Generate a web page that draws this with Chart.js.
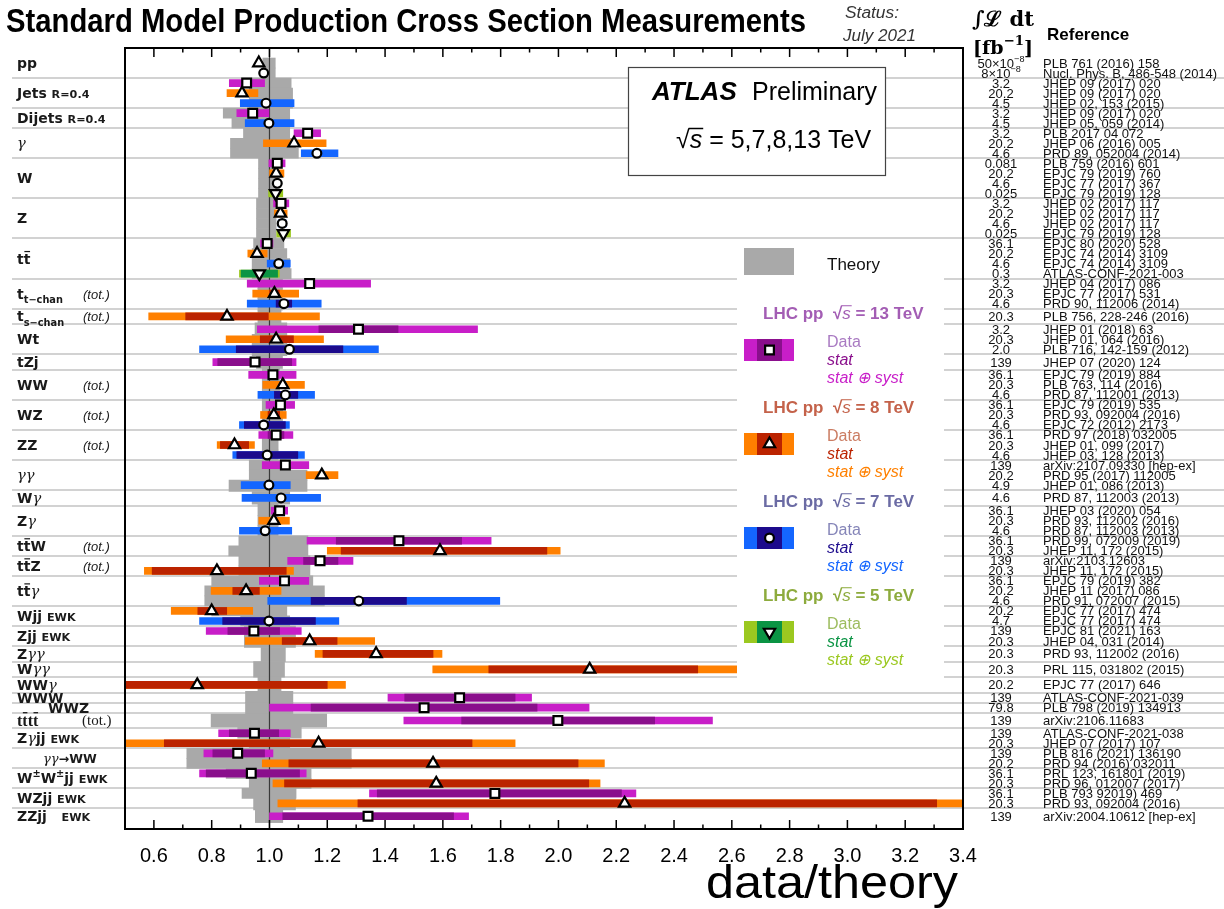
<!DOCTYPE html>
<html>
<head>
<meta charset="utf-8">
<title>Standard Model Production Cross Section Measurements</title>
<script src="https://cdn.jsdelivr.net/npm/chart.js@4.4.1/dist/chart.umd.min.js"></script>
<style>
  html, body { margin: 0; padding: 0; background: #fff; }
  #wrap { width: 1224px; height: 909px; position: relative; }
</style>
</head>
<body>
<div id="wrap"><canvas id="chart"></canvas></div>
<script>
// processes, top to bottom, with how many measurements each one has
const processes = ['pp', 'Jets <R=0.4>', 'Dijets <R=0.4>', 'γ', 'W', 'Z', 't~t', 't_{t−chan}', 't_{s−chan}',
  'Wt', 'tZj', 'WW', 'WZ', 'ZZ', 'γγ', 'Wγ', 'Zγ', 't~tW', 't~tZ', 't~tγ', 'Wjj <EWK>', 'Zjj <EWK>',
  'Zγγ', 'Wγγ', 'WWγ', 'WWW', 'WWZ', 't~tt~t', 'Zγjj <EWK>', 'γγ→WW', 'W^{±}W^{±}jj <EWK>', 'WZjj <EWK>', 'ZZjj   <EWK>'];
const rowsPerProcess = [2, 3, 2, 3, 4, 4, 4, 3, 1, 3, 1, 3, 3, 3, 3, 1, 3, 2, 2, 3, 2, 2, 1, 1, 1, 1, 1, 1, 2, 2, 2, 2, 1];
const totalOnly = [7, 8, 11, 12, 13, 17, 18, 27];   // quoted as total cross sections

// one entry per measurement row
const rowEnergy = [8, 7, 13, 8, 7, 13, 7, 13, 8, 7, 13, 8, 7, 5, 13, 8, 7, 5, 13, 8, 7, 5, 13, 8, 7, 8,
  13, 8, 7, 13, 13, 8, 7, 13, 8, 7, 13, 8, 7, 13, 8, 7, 7, 13, 8, 7, 13, 8, 13, 8, 13, 8, 7, 8, 7,
  13, 8, 8, 8, 8, 13, 13, 13, 13, 8, 13, 8, 13, 8, 13, 8, 13];

const values = [
  0.963, 0.980,
  0.921, 0.905, 0.988,
  0.942, 0.998,
  1.132, 1.085, 1.164,
  1.027, 1.023, 1.027, 1.021,
  1.040, 1.038, 1.044, 1.048,
  0.992, 0.957, 1.032, 0.965,
  1.139, 1.017, 1.050,
  0.853,
  1.308, 1.023, 1.069,
  0.950,
  1.012, 1.046, 1.055,
  1.038, 1.015, 0.980,
  1.023, 0.879, 0.992,
  1.055, 1.181, 0.998,
  1.040,
  1.035, 1.015, 0.985,
  1.448, 1.590,
  1.175, 0.818,
  1.052, 0.919, 1.309,
  0.800, 0.998,
  0.946, 1.139,
  1.369,
  2.108,
  0.750,
  1.658,
  1.535,
  1.998,
  0.948, 1.170,
  0.890, 1.566,
  0.937, 1.577,
  1.780, 2.229,
  1.341
];

const statBand = [
  [0.958, 0.968], [0.977, 0.983],
  [0.915, 0.927], [0.900, 0.910], [0.983, 0.993],
  [0.937, 0.947], [0.993, 1.003],
  [1.127, 1.137], [1.080, 1.090], [1.159, 1.169],
  [1.022, 1.032], [1.018, 1.028], [1.024, 1.030], [1.016, 1.026],
  [1.035, 1.045], [1.034, 1.042], [1.041, 1.047], [1.043, 1.053],
  [0.988, 0.996], [0.952, 0.962], [1.027, 1.037], [0.902, 1.028],
  [1.125, 1.153], [1.000, 1.034], [1.023, 1.077],
  [0.710, 0.996],
  [1.171, 1.445], [0.968, 1.083], [0.885, 1.254],
  [0.821, 1.077],
  [1.006, 1.018], [1.040, 1.052], [1.017, 1.098],
  [1.030, 1.046], [0.995, 1.035], [0.913, 1.055],
  [0.995, 1.050], [0.830, 0.928], [0.887, 1.098],
  [1.050, 1.060], [1.176, 1.186], [0.993, 1.003],
  [1.035, 1.045],
  [1.030, 1.040], [1.010, 1.020], [0.980, 0.990],
  [1.231, 1.665], [1.248, 1.960],
  [1.118, 1.237], [0.594, 1.058],
  [1.047, 1.057], [0.873, 0.965], [1.144, 1.474],
  [0.752, 0.852], [0.838, 1.159],
  [0.856, 1.035], [1.044, 1.234],
  [1.185, 1.566],
  [1.759, 2.482],
  [0.300, 1.200],
  [1.468, 1.850],
  [1.144, 1.926],
  [1.665, 2.333],
  [0.861, 1.032], [0.636, 1.701],
  [0.804, 0.983], [1.067, 2.068],
  [0.781, 1.104], [1.052, 2.105],
  [1.373, 2.218], [1.306, 3.309],
  [1.046, 1.637]
];

const totalBand = [
  [0.955, 0.971], [0.975, 0.985],
  [0.861, 0.983], [0.853, 0.960], [0.899, 1.085],
  [0.887, 0.998], [0.916, 1.085],
  [1.085, 1.177], [0.979, 1.196], [1.110, 1.237],
  [0.998, 1.054], [1.000, 1.050], [1.017, 1.037], [0.997, 1.046],
  [1.014, 1.067], [1.017, 1.061], [1.030, 1.058], [1.025, 1.073],
  [0.969, 1.012], [0.925, 0.992], [0.992, 1.072], [0.896, 1.034],
  [0.923, 1.350], [0.942, 1.101], [0.923, 1.179],
  [0.582, 1.173],
  [0.958, 1.720], [0.850, 1.187], [0.758, 1.377],
  [0.804, 1.092],
  [0.928, 1.092], [0.977, 1.121], [0.960, 1.156],
  [0.988, 1.087], [0.969, 1.058], [0.896, 1.069],
  [0.963, 1.081], [0.819, 0.948], [0.873, 1.121],
  [0.975, 1.136], [1.127, 1.237], [0.902, 1.072],
  [0.905, 1.177],
  [1.006, 1.063], [0.963, 1.069], [0.896, 1.077],
  [1.130, 1.767], [1.200, 2.006],
  [1.063, 1.289], [0.567, 1.083],
  [0.965, 1.136], [0.798, 1.040], [0.994, 1.797],
  [0.660, 0.942], [0.758, 1.240],
  [0.781, 1.110], [0.916, 1.364],
  [1.158, 1.597],
  [1.565, 2.619],
  [0.200, 1.263],
  [1.410, 1.907],
  [1.000, 2.106],
  [1.465, 2.533],
  [0.824, 1.072], [0.490, 1.850],
  [0.773, 1.012], [0.975, 2.159],
  [0.758, 1.127], [1.012, 2.144],
  [1.346, 2.268], [1.029, 3.600],
  [1.000, 1.689]
];

const theoryBand = [
  [0.977, 1.020], [0.977, 1.020],
  [0.940, 1.075], [0.930, 1.080], [0.930, 1.080],
  [0.840, 1.070], [0.870, 1.070],
  [0.910, 1.070], [0.865, 1.090], [0.865, 1.100],
  [0.962, 1.020], [0.962, 1.020], [0.962, 1.020], [0.962, 1.025],
  [0.955, 1.020], [0.955, 1.020], [0.955, 1.023], [0.955, 1.023],
  [0.945, 1.050], [0.940, 1.060], [0.940, 1.070], [0.940, 1.075],
  [0.960, 1.045], [0.960, 1.045], [0.960, 1.045],
  [0.960, 1.040],
  [0.950, 1.060], [0.940, 1.060], [0.940, 1.060],
  [0.955, 1.045],
  [0.975, 1.035], [0.975, 1.035], [0.975, 1.035],
  [0.975, 1.045], [0.975, 1.045], [0.975, 1.045],
  [0.975, 1.030], [0.975, 1.030], [0.975, 1.030],
  [0.930, 1.058], [0.930, 1.130], [0.860, 1.130],
  [0.940, 1.070],
  [0.960, 1.030], [0.960, 1.030], [0.960, 1.030],
  [0.894, 1.133], [0.859, 1.133],
  [0.894, 1.140], [0.894, 1.140],
  [0.800, 1.150], [0.776, 1.190], [0.776, 1.190],
  [0.800, 1.060], [0.900, 1.070],
  [0.913, 1.090], [0.913, 1.090],
  [0.971, 1.055],
  [0.945, 1.052],
  [0.960, 1.040],
  [0.917, 1.081],
  [0.917, 1.081],
  [0.798, 1.198],
  [0.890, 1.110], [0.930, 1.070],
  [0.714, 1.283], [0.714, 1.283],
  [0.850, 1.144], [0.930, 1.144],
  [0.905, 1.092], [0.945, 1.090],
  [0.951, 1.046]
];

const lumi = ['50×10^{−8}', '8×10^{−8}', '3.2', '20.2', '4.5', '3.2', '4.5', '3.2', '20.2', '4.6',
  '0.081', '20.2', '4.6', '0.025', '3.2', '20.2', '4.6', '0.025', '36.1', '20.2', '4.6', '0.3',
  '3.2', '20.3', '4.6', '20.3', '3.2', '20.3', '2.0', '139', '36.1', '20.3', '4.6', '36.1', '20.3', '4.6',
  '36.1', '20.3', '4.6', '139', '20.2', '4.9', '4.6', '36.1', '20.3', '4.6', '36.1', '20.3', '139', '20.3',
  '36.1', '20.2', '4.6', '20.2', '4.7', '139', '20.3', '20.3', '20.3', '20.2', '139', '79.8', '139',
  '139', '20.3', '139', '20.2', '36.1', '20.3', '36.1', '20.3', '139'];

const refs = ['PLB 761 (2016) 158', 'Nucl. Phys. B, 486-548 (2014)',
  'JHEP 09 (2017) 020', 'JHEP 09 (2017) 020', 'JHEP 02, 153 (2015)',
  'JHEP 09 (2017) 020', 'JHEP 05, 059 (2014)',
  'PLB 2017 04 072', 'JHEP 06 (2016) 005', 'PRD 89, 052004 (2014)',
  'PLB 759 (2016) 601', 'EPJC 79 (2019) 760', 'EPJC 77 (2017) 367', 'EPJC 79 (2019) 128',
  'JHEP 02 (2017) 117', 'JHEP 02 (2017) 117', 'JHEP 02 (2017) 117', 'EPJC 79 (2019) 128',
  'EPJC 80 (2020) 528', 'EPJC 74 (2014) 3109', 'EPJC 74 (2014) 3109', 'ATLAS-CONF-2021-003',
  'JHEP 04 (2017) 086', 'EPJC 77 (2017) 531', 'PRD 90, 112006 (2014)',
  'PLB 756, 228-246 (2016)',
  'JHEP 01 (2018) 63', 'JHEP 01, 064 (2016)', 'PLB 716, 142-159 (2012)',
  'JHEP 07 (2020) 124',
  'EPJC 79 (2019) 884', 'PLB 763, 114 (2016)', 'PRD 87, 112001 (2013)',
  'EPJC 79 (2019) 535', 'PRD 93, 092004 (2016)', 'EPJC 72 (2012) 2173',
  'PRD 97 (2018) 032005', 'JHEP 01, 099 (2017)', 'JHEP 03, 128 (2013)',
  'arXiv:2107.09330 [hep-ex]', 'PRD 95 (2017) 112005', 'JHEP 01, 086 (2013)',
  'PRD 87, 112003 (2013)',
  'JHEP 03 (2020) 054', 'PRD 93, 112002 (2016)', 'PRD 87, 112003 (2013)',
  'PRD 99, 072009 (2019)', 'JHEP 11, 172 (2015)',
  'arXiv:2103.12603', 'JHEP 11, 172 (2015)',
  'EPJC 79 (2019) 382', 'JHEP 11 (2017) 086', 'PRD 91, 072007 (2015)',
  'EPJC 77 (2017) 474', 'EPJC 77 (2017) 474',
  'EPJC 81 (2021) 163', 'JHEP 04, 031 (2014)',
  'PRD 93, 112002 (2016)',
  'PRL 115, 031802 (2015)',
  'EPJC 77 (2017) 646',
  'ATLAS-CONF-2021-039',
  'PLB 798 (2019) 134913',
  'arXiv:2106.11683',
  'ATLAS-CONF-2021-038', 'JHEP 07 (2017) 107',
  'PLB 816 (2021) 136190', 'PRD 94 (2016) 032011',
  'PRL 123, 161801 (2019)', 'PRD 96, 012007 (2017)',
  'PLB 793 92019) 469', 'PRD 93, 092004 (2016)',
  'arXiv:2004.10612 [hep-ex]'];

const tickLabels = ['0.6', '0.8', '1.0', '1.2', '1.4', '1.6', '1.8', '2.0', '2.2', '2.4', '2.6', '2.8', '3.0', '3.2', '3.4'];

// colours and markers for each centre-of-mass energy
const energyStyle = {
  13: { total: '#c81ec8', stat: '#8a0f8c', head: '#a35db4', data: '#a97ac2', marker: 'rect', radius: 6.2, rotation: 0 },
  8: { total: '#ff8000', stat: '#bb2300', head: '#c4624a', data: '#cb7c62', marker: 'triangle', radius: 6.5, rotation: 0 },
  7: { total: '#1466ff', stat: '#1c0a8c', head: '#6b6ba4', data: '#8585b8', marker: 'circle', radius: 4.4, rotation: 0 },
  5: { total: '#9bc820', stat: '#0b9444', head: '#8dab3d', data: '#9dbc5e', marker: 'triangle', radius: 6.5, rotation: 180 }
};
const THEORY = '#a9a9a9';
const SANS = '"Liberation Sans", Arial, sans-serif';

// vertical layout: one unit per row, single measurements get a bit more room
const shortSlots = [25, 26];
const rowPos = [], groupTop = [], groupBottom = [];
let cursor = 1;
rowsPerProcess.forEach((n, g) => {
  const h = n > 1 ? n : (shortSlots.includes(g) ? 1 : 1.55);
  groupTop.push(g === 0 ? 0 : cursor);
  for (let k = 0; k < n; k++) rowPos.push(n > 1 ? cursor + k + 0.5 : cursor + h / 2);
  cursor += h;
  groupBottom.push(cursor);
});
const yMax = cursor + 0.5;

// small rich-text helper: _{sub} ^{sup} <small> ~t (t-bar) and italic greek
function richText(ctx, str, x, y, size, opt = {}) {
  const weight = opt.weight || 'bold';
  const family = opt.family || '"DejaVu Sans"';
  const pieces = [];
  let buf = '';
  const flush = () => { if (buf) { pieces.push({ t: buf, s: size, dy: 0 }); buf = ''; } };
  for (let i = 0; i < str.length; i++) {
    const c = str[i];
    if ((c === '_' || c === '^') && str[i + 1] === '{') {
      flush();
      const end = str.indexOf('}', i);
      pieces.push({ t: str.slice(i + 2, end), s: size * 0.7, dy: c === '_' ? size * 0.3 : -size * 0.45 });
      i = end;
    } else if (c === '<') {
      flush();
      const end = str.indexOf('>', i);
      pieces.push({ t: str.slice(i + 1, end), s: size * 0.8, dy: 0 });
      i = end;
    } else if (c === '~') {
      flush();
      pieces.push({ t: str[i + 1], s: size, dy: 0, bar: true });
      i++;
    } else if (c === 'γ') {
      flush();
      pieces.push({ t: c, s: size * 1.05, dy: 0, greek: true });
    } else {
      buf += c;
    }
  }
  flush();
  const fontOf = p => p.greek ? `italic ${p.s}px "DejaVu Serif"` : `${opt.italic ? 'italic ' : ''}${weight} ${p.s}px ${family}`;
  let total = 0;
  pieces.forEach(p => { ctx.font = fontOf(p); p.w = ctx.measureText(p.t).width; total += p.w; });
  let cx = opt.align === 'center' ? x - total / 2 : x;
  pieces.forEach(p => {
    ctx.font = fontOf(p);
    ctx.fillText(p.t, cx, y + p.dy);
    if (p.bar) ctx.fillRect(cx + p.w * 0.1, y - p.s * 0.9, p.w * 0.85, Math.max(1.2, p.s * 0.08));
    cx += p.w;
  });
  return total;
}

// squeeze a string horizontally into a given width
function fitText(ctx, text, x, y, width, font) {
  ctx.font = font;
  const w = ctx.measureText(text).width;
  ctx.save();
  ctx.translate(x, y);
  ctx.scale(width / w, 1);
  ctx.fillText(text, 0, 0);
  ctx.restore();
}

// radical sign with an italic s under its bar
function sqrtS(ctx, x, y, size, weight, color) {
  ctx.fillStyle = color;
  ctx.strokeStyle = color;
  ctx.font = `${weight} ${size}px ${SANS}`;
  const wr = ctx.measureText('√').width;
  ctx.fillText('√', x, y);
  ctx.font = `italic ${size}px ${SANS}`;
  const ws = ctx.measureText('s').width;
  ctx.fillText('s', x + wr, y);
  ctx.lineWidth = Math.max(1, size * 0.06);
  ctx.beginPath();
  ctx.moveTo(x + wr * 0.92, y - size * 0.78);
  ctx.lineTo(x + wr + ws + 1, y - size * 0.78);
  ctx.stroke();
  return wr + ws;
}

function marker(ctx, style, x, y) {
  ctx.fillStyle = '#fff';
  ctx.strokeStyle = '#000';
  ctx.lineWidth = 2.2;
  Chart.helpers.drawPoint(ctx, { pointStyle: style.marker, radius: style.radius, rotation: style.rotation, borderWidth: 2.2 }, x, y);
}

const decorations = {
  id: 'decorations',
  beforeDraw(chart) {
    const { ctx, width, height } = chart;
    ctx.save();
    ctx.fillStyle = '#fff';
    ctx.fillRect(0, 0, width, height);
    ctx.restore();
  },
  beforeDatasetsDraw(chart) {
    const { ctx, scales: { y } } = chart;
    ctx.save();
    ctx.strokeStyle = '#d2d2d2';
    ctx.lineWidth = 1.8;
    groupBottom.slice(0, -1).forEach(v => {
      const py = Math.round(y.getPixelForValue(v));
      ctx.beginPath();
      ctx.moveTo(12, py);
      ctx.lineTo(chart.width, py);
      ctx.stroke();
    });
    ctx.restore();
  },
  afterDatasetDraw(chart, args) {
    if (args.index !== 0) return;
    // line at data/theory = 1 sits on the theory band, under the data
    const { ctx, chartArea: a, scales: { x } } = chart;
    const px = x.getPixelForValue(1);
    ctx.save();
    ctx.strokeStyle = '#3a3a3a';
    ctx.lineWidth = 1.2;
    ctx.beginPath();
    ctx.moveTo(px, a.top);
    ctx.lineTo(px, a.bottom);
    ctx.stroke();
    ctx.restore();
  },
  afterDatasetsDraw(chart) {
    const { ctx, chartArea: a, scales: { x, y } } = chart;
    ctx.save();

    // frame and inward ticks
    ctx.strokeStyle = '#000';
    ctx.lineWidth = 2;
    ctx.strokeRect(a.left, a.top, a.right - a.left, a.bottom - a.top);
    ctx.lineWidth = 1.5;
    for (let k = 1; k < 29; k++) {
      const px = x.getPixelForValue(0.5 + k * 0.1);
      const len = k % 2 ? 9 : 4.5;
      ctx.beginPath();
      ctx.moveTo(px, a.top); ctx.lineTo(px, a.top + len);
      ctx.moveTo(px, a.bottom); ctx.lineTo(px, a.bottom - len);
      ctx.stroke();
    }
    ctx.fillStyle = '#000';
    ctx.font = `20px ${SANS}`;
    ctx.textAlign = 'center';
    tickLabels.forEach(t => ctx.fillText(t, x.getPixelForValue(parseFloat(t)), 862));
    ctx.textAlign = 'left';
    fitText(ctx, 'data/theory', 706, 898, 252, `46px ${SANS}`);

    // title and status
    fitText(ctx, 'Standard Model Production Cross Section Measurements', 6, 32, 800, `bold 33px ${SANS}`);
    ctx.fillStyle = '#333';
    fitText(ctx, 'Status:', 845, 18, 54, `italic 16px ${SANS}`);
    fitText(ctx, 'July 2021', 843, 41, 73, `italic 16px ${SANS}`);

    // ATLAS box
    ctx.fillStyle = '#fff';
    ctx.fillRect(628, 67, 257, 108);
    ctx.strokeStyle = '#444';
    ctx.lineWidth = 1.2;
    ctx.strokeRect(628.5, 67.5, 257, 108);
    ctx.fillStyle = '#000';
    ctx.font = `italic bold 26px ${SANS}`;
    ctx.fillText('ATLAS', 652, 100);
    ctx.font = `25px ${SANS}`;
    ctx.fillText('Preliminary', 752, 100);
    const ws = sqrtS(ctx, 676, 148, 25, 'normal', '#000');
    ctx.font = `25px ${SANS}`;
    ctx.fillText(' = 5,7,8,13 TeV', 676 + ws, 148);

    // legend
    ctx.fillStyle = '#fff';
    ctx.fillRect(737, 242, 207, 436);
    ctx.fillStyle = THEORY;
    ctx.fillRect(744, 248, 50, 27);
    ctx.fillStyle = '#111';
    ctx.font = `17px ${SANS}`;
    ctx.fillText('Theory', 827, 270);
    [13, 8, 7, 5].forEach((e, k) => {
      const s = energyStyle[e];
      const top = 313 + k * 94;
      ctx.fillStyle = s.head;
      ctx.font = `bold 17px ${SANS}`;
      ctx.fillText('LHC pp', 763, top + 6);
      const w0 = ctx.measureText('LHC pp  ').width;
      const w1 = sqrtS(ctx, 763 + w0, top + 6, 17, 'bold', s.head);
      ctx.font = `bold 17px ${SANS}`;
      ctx.fillText(` = ${e} TeV`, 763 + w0 + w1, top + 6);
      ctx.fillStyle = s.total;
      ctx.fillRect(744, top + 26, 50, 22);
      ctx.fillStyle = s.stat;
      ctx.fillRect(757, top + 26, 25, 22);
      marker(ctx, s, 769.5, top + 37);
      ctx.font = `16px ${SANS}`;
      ctx.fillStyle = s.data;
      ctx.fillText('Data', 827, top + 34);
      ctx.font = `italic 16px ${SANS}`;
      ctx.fillStyle = s.stat;
      ctx.fillText('stat', 827, top + 52);
      ctx.fillStyle = s.total;
      ctx.fillText('stat ⊕ syst', 827, top + 70);
    });

    // process labels on the left
    ctx.fillStyle = '#1a1a1a';
    processes.forEach((p, g) => {
      const cy = y.getPixelForValue((groupTop[g] + groupBottom[g]) / 2);
      if (g === 27) {
        richText(ctx, p, 17, cy + 6, 16, { family: '"Liberation Serif"' });
        ctx.font = '15px "Liberation Serif"';
        ctx.fillText('(tot.)', 82, cy + 5);
        return;
      }
      const x0 = g === 26 ? 48 : g === 29 ? 43 : 17;
      richText(ctx, p, x0, cy + 5, g === 29 ? 12.5 : 14);
      if (totalOnly.includes(g)) {
        ctx.font = `italic 13px ${SANS}`;
        ctx.fillText('(tot.)', 83, cy + 5);
      }
    });

    // luminosity and reference columns
    ctx.fillStyle = '#000';
    ctx.font = 'bold 21px "DejaVu Serif"';
    ctx.textAlign = 'center';
    ctx.fillText('∫ℒ dt', 1003, 26);
    ctx.textAlign = 'left';
    richText(ctx, '[fb^{−1}]', 1003, 54, 19, { family: '"DejaVu Serif"', align: 'center' });
    ctx.font = `bold 17px ${SANS}`;
    ctx.fillText('Reference', 1047, 40);
    rowPos.forEach((v, i) => {
      const py = y.getPixelForValue(v) + 4.5;
      ctx.fillStyle = '#111';
      richText(ctx, lumi[i], 1001, py, 13, { weight: 'normal', family: SANS, align: 'center' });
      ctx.font = `13px ${SANS}`;
      ctx.fillText(refs[i], 1043, py);
    });

    ctx.restore();
  }
};

const markerSets = [13, 8, 7, 5].map(e => {
  const s = energyStyle[e];
  const idx = rowEnergy.map((en, i) => (en === e ? i : -1)).filter(i => i >= 0);
  return {
    type: 'scatter',
    label: `Data ${e} TeV`,
    order: 0,
    data: idx.map(i => ({ x: values[i], y: rowPos[i] })),
    pointStyle: s.marker,
    pointRadius: s.radius,
    pointRotation: s.rotation,
    pointBackgroundColor: '#fff',
    pointBorderColor: '#000',
    pointBorderWidth: 2.2
  };
});

new Chart(document.getElementById('chart'), {
  type: 'bar',
  data: {
    datasets: [
      {
        type: 'bar',
        label: 'Theory',
        indexAxis: 'y',
        order: 3,
        data: rowPos.map((v, i) => ({ x: theoryBand[i], y: v })),
        backgroundColor: THEORY,
        borderWidth: 0,
        grouped: true,
        barThickness: 'flex',
        barPercentage: 1,
        categoryPercentage: 1
      },
      {
        type: 'bar',
        label: 'stat ⊕ syst',
        indexAxis: 'y',
        order: 2,
        data: rowPos.map((v, i) => ({ x: totalBand[i], y: v })),
        backgroundColor: c => energyStyle[rowEnergy[c.dataIndex]].total,
        borderWidth: 0,
        grouped: false,
        barThickness: 7
      },
      {
        type: 'bar',
        label: 'stat',
        indexAxis: 'y',
        order: 1,
        data: rowPos.map((v, i) => ({ x: statBand[i], y: v })),
        backgroundColor: c => energyStyle[rowEnergy[c.dataIndex]].stat,
        borderWidth: 0,
        grouped: false,
        barThickness: 7
      },
      ...markerSets
    ]
  },
  options: {
    indexAxis: 'y',
    responsive: true,
    maintainAspectRatio: false,
    animation: false,
    events: [],
    layout: { padding: { left: 125, top: 48, right: 261, bottom: 80 } },
    scales: {
      x: { type: 'linear', min: 0.5, max: 3.4, offset: false, display: false },
      y: { type: 'linear', min: 0, max: yMax, reverse: true, offset: false, display: false }
    },
    plugins: { legend: { display: false }, tooltip: { enabled: false } }
  },
  plugins: [decorations]
});
</script>
</body>
</html>
